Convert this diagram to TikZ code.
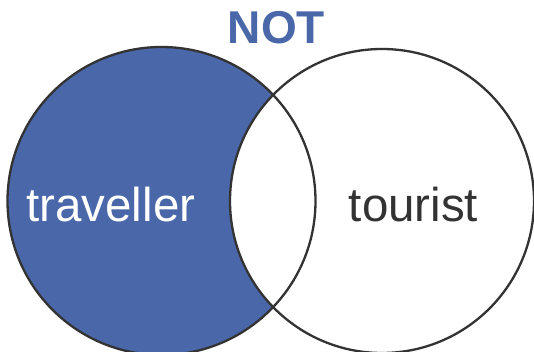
\documentclass[tikz,border=0pt]{standalone}
\usepackage{fontspec}
\setmainfont{Liberation Sans}
\definecolor{vblue}{HTML}{4A67A9}
\definecolor{vgray}{HTML}{333333}
\begin{document}
\begin{tikzpicture}[x=1pt,y=1pt,
  setc/.style={draw=vgray, line width=2.3pt},
  lbl/.style={anchor=base, inner sep=0pt, font=\fontsize{47.5}{52}\selectfont}]
\useasboundingbox (0,0) rectangle (534,352);
\fill[vblue] (161.5,151) circle (154);
\fill[white] (382,151) circle (152);
\draw[setc] (161.5,151) circle (154);
\draw[setc] (382,151) circle (152);
\node[lbl, text=white] (trav) at (110.8,130) {traveller};
\node[lbl, text=vgray] (tour) at (413.5,130) {tourist};
\node[lbl, text=vblue, font=\fontsize{46}{50}\selectfont\bfseries] (not) at (276.4,308) {NOT};
\end{tikzpicture}
\end{document}
